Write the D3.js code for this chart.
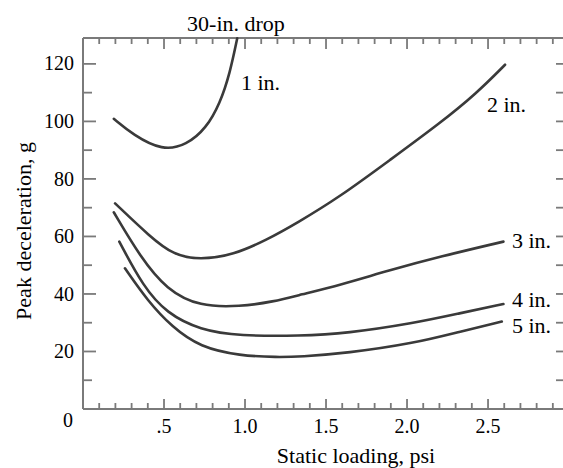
<!DOCTYPE html>
<html>
<head>
<meta charset="utf-8">
<script src="https://cdn.jsdelivr.net/npm/d3@7"></script>
<style>
  body { margin: 0; background: #fff; }
</style>
</head>
<body>
<div id="chart"></div>
<script>
///////////////////////////////////////////////////////////////
///////////// Data ////////////////////
///////////////////////////////////////////////////////////////

var dropLabels = ["1 in.", "2 in.", "3 in.", "4 in.", "5 in."];

// static loading (psi) and peak deceleration (g) for each drop height
var load1 = [0.19, 0.31, 0.49, 0.64, 0.76, 0.846, 0.907, 0.952];
var decel1 = [100.9, 95.3, 89.8, 91.8, 97.6, 106.3, 116.8, 128.9];

var load2 = [0.198, 0.414, 0.557, 0.722, 0.928, 1.134, 1.319, 1.586, 1.895, 2.204, 2.43, 2.605];
var decel2 = [71.5, 59.9, 53.6, 51.8, 53.6, 58.8, 64.6, 73.8, 86.6, 99.4, 109.8, 119.7];

var load3 = [0.19, 0.352, 0.517, 0.722, 0.969, 1.175, 1.34, 1.586, 1.895, 2.204, 2.595];
var decel3 = [68.4, 53.0, 41.4, 35.6, 35.6, 37.3, 39.7, 43.1, 48.3, 53.0, 58.2];

var load4 = [0.224, 0.372, 0.517, 0.722, 0.969, 1.34, 1.628, 2.04, 2.327, 2.595];
var decel4 = [58.2, 42.5, 33.3, 27.5, 25.4, 25.4, 26.3, 29.8, 33.3, 36.5];

var load5 = [0.259, 0.40, 0.55, 0.722, 0.969, 1.2, 1.34, 1.628, 2.04, 2.327, 2.585];
var decel5 = [48.9, 37.5, 28.5, 21.5, 18.5, 18.0, 18.2, 19.4, 22.8, 26.9, 30.4];

var xTickValues = [0.5, 1.0, 1.5, 2.0, 2.5];
var xTickLabels = [".5", "1.0", "1.5", "2.0", "2.5"];
var yTickValues = [20, 40, 60, 80, 100, 120];

///////////////////////////////////////////////////////////////
///////////// Chart //////////////////////////////////////////
///////////////////////////////////////////////////////////////

var W = 563, H = 468;
var axisColor = "#7a7a7a", curveColor = "#3a3a3a";
var serif = "'Liberation Serif', 'DejaVu Serif', 'Times New Roman', serif";

var svg = d3.select("#chart").append("svg")
  .attr("width", W).attr("height", H)
  .style("font-family", serif);

var x = d3.scaleLinear().domain([0, 2.93]).range([83, 557.7]);
var y = d3.scaleLinear().domain([0, 129]).range([409, 38]);

// frame lines (left, bottom, top)
svg.append("line").attr("x1", x(0)).attr("x2", x(0)).attr("y1", y(129)).attr("y2", y(0))
  .attr("stroke", axisColor).attr("stroke-width", 2);
svg.append("line").attr("x1", x(0)).attr("x2", W).attr("y1", y(0)).attr("y2", y(0))
  .attr("stroke", axisColor).attr("stroke-width", 2);
svg.append("line").attr("x1", x(0)).attr("x2", W).attr("y1", y(129)).attr("y2", y(129))
  .attr("stroke", axisColor).attr("stroke-width", 2);

// minor/major ticks every 0.1 on top and bottom, pointing inward
var xTicks = d3.range(1, 30).map(function (i) { return i / 10; });
var isMajor = function (v) { return Math.abs(v * 2 - Math.round(v * 2)) < 1e-6; };

svg.selectAll("bottomTicks")
  .data(xTicks).enter().append("line")
  .attr("x1", d => x(d)).attr("x2", d => x(d))
  .attr("y1", y(0)).attr("y2", d => y(0) - (isMajor(d) ? 10 : 6))
  .attr("stroke", axisColor).attr("stroke-width", 1.8);

svg.selectAll("topTicks")
  .data(xTicks).enter().append("line")
  .attr("x1", d => x(d)).attr("x2", d => x(d))
  .attr("y1", y(129)).attr("y2", d => y(129) + (isMajor(d) ? 11 : 6))
  .attr("stroke", axisColor).attr("stroke-width", 1.8);

// y ticks every 10, left and right, pointing inward
var yTicks = d3.range(10, 130, 10);
svg.selectAll("leftTicks")
  .data(yTicks).enter().append("line")
  .attr("x1", x(0)).attr("x2", d => x(0) + (d % 20 === 0 ? 13 : 9))
  .attr("y1", d => y(d)).attr("y2", d => y(d))
  .attr("stroke", axisColor).attr("stroke-width", 1.8);

svg.selectAll("rightTicks")
  .data(yTicks).enter().append("line")
  .attr("x1", W).attr("x2", W - 7)
  .attr("y1", d => y(d)).attr("y2", d => y(d))
  .attr("stroke", axisColor).attr("stroke-width", 1.8);

// tick labels
svg.selectAll("xLabels")
  .data(xTickValues).enter().append("text")
  .attr("x", d => x(d)).attr("y", 433)
  .attr("text-anchor", "middle")
  .style("font-size", "20px")
  .text((d, i) => xTickLabels[i]);

svg.selectAll("yLabels")
  .data(yTickValues).enter().append("text")
  .attr("x", 74).attr("y", d => y(d))
  .attr("dy", "0.33em")
  .attr("text-anchor", "end")
  .style("font-size", "20px")
  .text(d => d);

svg.append("text").attr("x", 68).attr("y", 427)
  .attr("text-anchor", "middle").style("font-size", "20px").text("0");

// axis titles
svg.append("text").attr("x", 356).attr("y", 463)
  .attr("text-anchor", "middle").style("font-size", "22px")
  .text("Static loading, psi");

svg.append("text")
  .attr("transform", "translate(31,231)rotate(-90)")
  .attr("text-anchor", "middle").style("font-size", "22px")
  .text("Peak deceleration, g");

svg.append("text").attr("x", 236).attr("y", 31)
  .attr("text-anchor", "middle").style("font-size", "22px")
  .text("30-in. drop");

// curves
var series = [
  { label: dropLabels[0], xs: load1, ys: decel1 },
  { label: dropLabels[1], xs: load2, ys: decel2 },
  { label: dropLabels[2], xs: load3, ys: decel3 },
  { label: dropLabels[3], xs: load4, ys: decel4 },
  { label: dropLabels[4], xs: load5, ys: decel5 }
];

// basis spline smooths out the reading noise in the hand-picked points
var line = d3.line()
  .x(d => x(d[0])).y(d => y(d[1]))
  .curve(d3.curveBasis);

svg.selectAll("curves")
  .data(series).enter().append("path")
  .attr("d", d => line(d3.zip(d.xs, d.ys)))
  .attr("fill", "none")
  .attr("stroke", curveColor)
  .attr("stroke-width", 2.6)
  .attr("stroke-linecap", "round");

// curve labels
var labelPos = [[241, 90], [487, 112], [512, 248], [512, 307], [512, 333]];
svg.selectAll("curveLabels")
  .data(series).enter().append("text")
  .attr("x", (d, i) => labelPos[i][0])
  .attr("y", (d, i) => labelPos[i][1])
  .style("font-size", "22px")
  .text(d => d.label);
</script>
</body>
</html>
